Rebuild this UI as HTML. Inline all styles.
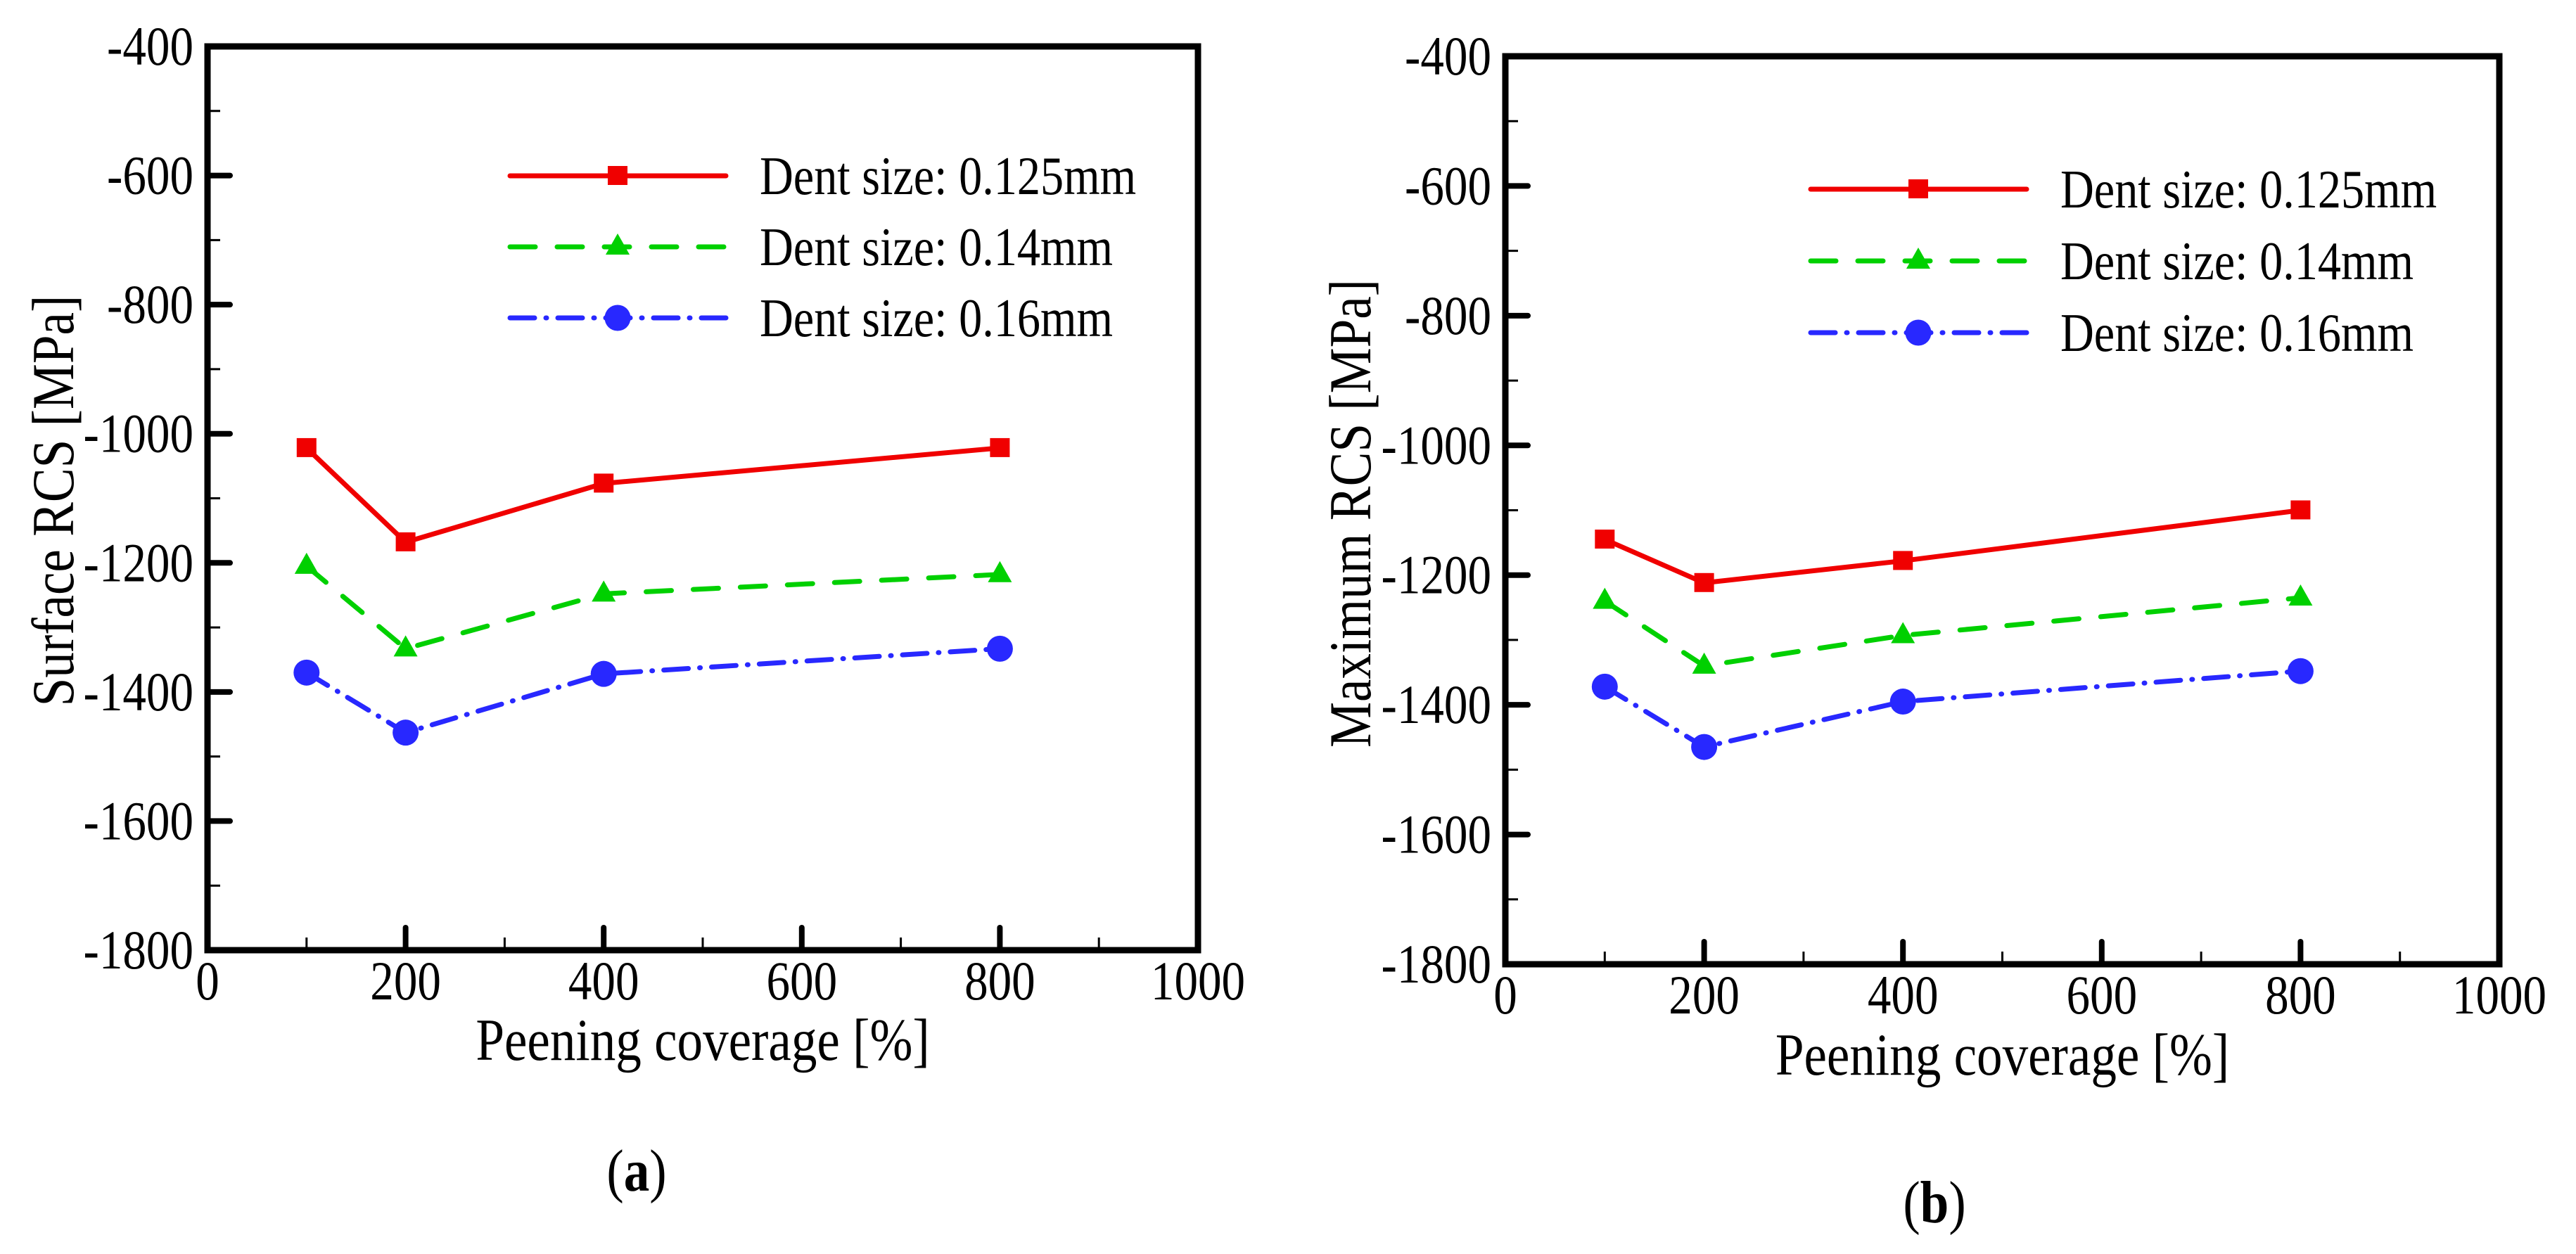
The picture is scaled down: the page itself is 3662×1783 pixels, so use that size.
<!DOCTYPE html>
<html><head><meta charset="utf-8"><style>
html,body{margin:0;padding:0;background:#fff;}
svg{display:block;font-family:"Liberation Serif","DejaVu Serif",serif;}
</style></head><body>
<svg id="fig" width="3662" height="1783" viewBox="0 0 3662 1783" xmlns="http://www.w3.org/2000/svg"></svg>
<script>
// ---- data ----
const coverage = [100, 200, 400, 800];
const seriesNames = ["Dent size: 0.125mm", "Dent size: 0.14mm", "Dent size: 0.16mm"];
const surfRed = [-1022, -1168, -1077, -1022];
const surfGreen = [-1205, -1333, -1248, -1218];
const surfBlue = [-1370, -1463, -1372, -1333];
const maxRed = [-1145, -1212, -1178, -1100];
const maxGreen = [-1240, -1340, -1293, -1235];
const maxBlue = [-1372, -1465, -1395, -1348];
const xTicks = [0, 200, 400, 600, 800, 1000];
const yTicks = [-400, -600, -800, -1000, -1200, -1400, -1600, -1800];

const NS = "http://www.w3.org/2000/svg";
const svg = document.getElementById('fig');
const SX = 0.86;
function mk(tag, attrs, parent, text) {
  const e = document.createElementNS(NS, tag);
  for (const k in attrs) e.setAttribute(k, attrs[k]);
  if (text !== undefined) e.textContent = text;
  (parent || svg).appendChild(e);
  return e;
}
function txt(parent, x, y, size, anchor, str, extra) {
  const t = mk('text', Object.assign({x: 0, y: 0, "font-size": size, "text-anchor": anchor,
    transform: `translate(${x},${y}) ${extra || ''} scale(${SX},1)`}), parent, str);
  return t;
}
const styles = [
  {color: "#f00000", dash: null, marker: "square"},
  {color: "#00d000", dash: "36 31", marker: "triangle"},
  {color: "#2828ff", dash: "35 16 1 16", marker: "circle"}
];
function marker(g, kind, cx, cy, color) {
  let m;
  if (kind === "square") m = mk('rect', {x: cx - 14, y: cy - 14, width: 28, height: 27, fill: color}, g);
  else if (kind === "triangle") m = mk('polygon', {points: `${cx},${cy - 19} ${cx - 17},${cy + 11} ${cx + 17},${cy + 11}`, fill: color}, g);
  else m = mk('circle', {cx: cx, cy: cy, r: 18.5, fill: color}, g);
  return m;
}

function panel(p) {
  const g = mk('g', {});
  
  
  const X = v => p.x0 + (v - 0) / 1000 * (p.x1 - p.x0);
  const Y = v => p.y0 + (-400 - v) / 1400 * (p.y1 - p.y0);
  for (let v = 100; v < 1000; v += 200) {
    const t = mk('line', {x1: X(v), x2: X(v), y1: p.y1, y2: p.y1 - 18, stroke: "#000", "stroke-width": 3}, g);
    
    
  }
  for (let v = -500; v > -1800; v -= 200) {
    const t = mk('line', {x1: p.x0, x2: p.x0 + 18, y1: Y(v), y2: Y(v), stroke: "#000", "stroke-width": 3}, g);
    
    
  }
  xTicks.forEach(v => {
    const t = mk('line', {x1: X(v), x2: X(v), y1: p.y1, y2: p.y1 - 32, stroke: "#000", "stroke-width": 8, "stroke-linecap": "round"}, g);
    
    
    const l = txt(g, X(v), p.y1 + 70, 78, "middle", String(v));
    
    
  });
  yTicks.forEach(v => {
    const t = mk('line', {x1: p.x0, x2: p.x0 + 32, y1: Y(v), y2: Y(v), stroke: "#000", "stroke-width": 8, "stroke-linecap": "round"}, g);
    
    
    const l = txt(g, p.x0 - 20, Y(v) + 26, 78, "end", String(v));
    
    
  });
  const f = mk('rect', {x: p.x0, y: p.y0, width: p.x1 - p.x0, height: p.y1 - p.y0, fill: "none", stroke: "#000", "stroke-width": 9}, g);
  
  
  p.series.forEach((vals, i) => {
    const st = styles[i];
    const sg = mk('g', {}, g);
    
    
    const pts = vals.map((v, j) => X(coverage[j]) + "," + Y(v)).join(" ");
    const line = mk('polyline', {points: pts, fill: "none", stroke: st.color, "stroke-width": 7, "stroke-linecap": "round", "stroke-linejoin": "round"}, sg);
    if (st.dash) line.setAttribute('stroke-dasharray', st.dash);
    
    
    vals.forEach((v, j) => {
      const m = marker(sg, st.marker, X(coverage[j]), Y(v), st.color);
      
      
    });
    const ly = p.legY + i * p.legDy;
    const lg = mk('g', {}, g);
    
    
    const ll = mk('line', {x1: p.legX, x2: p.legX + 307, y1: ly, y2: ly, stroke: st.color, "stroke-width": 7, "stroke-linecap": "round"}, lg);
    if (st.dash) ll.setAttribute('stroke-dasharray', st.dash);
    
    
    const lm = marker(lg, st.marker, p.legX + 153, ly, st.color);
    
    
    const lt = txt(lg, p.legX + 355, ly + 26, 77, "start", seriesNames[i]);
    
    
  });
  const xt = txt(g, (p.x0 + p.x1) / 2, p.xTitleY, 85, "middle", "Peening coverage [%]");
  
  
  const yt = txt(g, p.yTitleX, p.yTitleY, 85, "middle", p.yTitle, "rotate(-90)");
  
  
  const cap = txt(g, p.capX, p.capY, 85, "middle", undefined);
  
  
  mk('tspan', {}, cap, "(");
  mk('tspan', {"font-weight": "bold"}, cap, p.letter);
  mk('tspan', {}, cap, ")");
}

panel({name: "panel-a-surface-rcs", x0: 295, x1: 1703, y0: 66, y1: 1351,
  series: [surfRed, surfGreen, surfBlue], legX: 725, legY: 250, legDy: 101,
  xTitleY: 1507, yTitle: "Surface RCS [MPa]", yTitleX: 104, yTitleY: 712,
  capX: 905, capY: 1693, letter: "a"});
panel({name: "panel-b-maximum-rcs", x0: 2140, x1: 3553, y0: 80, y1: 1371,
  series: [maxRed, maxGreen, maxBlue], legX: 2574, legY: 269, legDy: 102,
  xTitleY: 1528, yTitle: "Maximum RCS [MPa]", yTitleX: 1948, yTitleY: 730,
  capX: 2750, capY: 1738, letter: "b"});
</script>
</body></html>
